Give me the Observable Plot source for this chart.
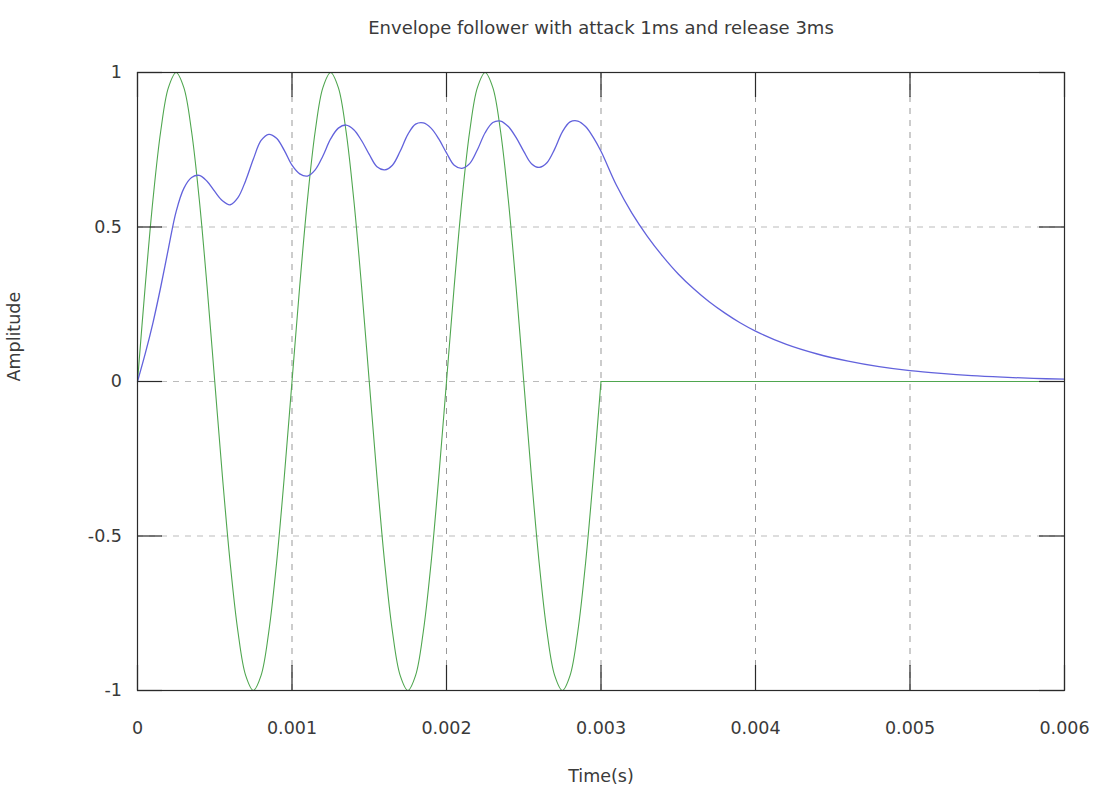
<!DOCTYPE html>
<html>
<head>
<meta charset="utf-8">
<script src="https://cdn.jsdelivr.net/npm/d3@7"></script>
<script src="https://cdn.jsdelivr.net/npm/@observablehq/plot@0.6"></script>
<style>
  html, body { margin: 0; padding: 0; background: #fff; }
  #chart { width: 1101px; height: 796px; }
</style>
</head>
<body>
<div id="chart"></div>
<script>
const titleText = "Envelope follower with attack 1ms and release 3ms";
const xLabel = "Time(s)";
const yLabel = "Amplitude";

const xTicks = [0, 0.001, 0.002, 0.003, 0.004, 0.005, 0.006];
const xTickLabels = ["0", "0.001", "0.002", "0.003", "0.004", "0.005", "0.006"];
const yTicks = [-1, -0.5, 0, 0.5, 1];
const yTickLabels = ["-1", "-0.5", "0", "0.5", "1"];

// input signal (green), time in seconds: three cycles, then silence
const inputTime = [
  0, 0.00005, 0.0001, 0.00015, 0.0002, 0.00025, 0.0003, 0.00035, 0.0004, 0.00045,
  0.0005, 0.00055, 0.0006, 0.00065, 0.0007, 0.00075, 0.0008, 0.00085, 0.0009, 0.00095,
  0.001, 0.00105, 0.0011, 0.00115, 0.0012, 0.00125, 0.0013, 0.00135, 0.0014, 0.00145,
  0.0015, 0.00155, 0.0016, 0.00165, 0.0017, 0.00175, 0.0018, 0.00185, 0.0019, 0.00195,
  0.002, 0.00205, 0.0021, 0.00215, 0.0022, 0.00225, 0.0023, 0.00235, 0.0024, 0.00245,
  0.0025, 0.00255, 0.0026, 0.00265, 0.0027, 0.00275, 0.0028, 0.00285, 0.0029, 0.00295,
  0.003
];
const inputValue = [
  0, 0.309, 0.588, 0.809, 0.951, 1, 0.951, 0.809, 0.588, 0.309,
  0, -0.309, -0.588, -0.809, -0.951, -1, -0.951, -0.809, -0.588, -0.309,
  0, 0.309, 0.588, 0.809, 0.951, 1, 0.951, 0.809, 0.588, 0.309,
  0, -0.309, -0.588, -0.809, -0.951, -1, -0.951, -0.809, -0.588, -0.309,
  0, 0.309, 0.588, 0.809, 0.951, 1, 0.951, 0.809, 0.588, 0.309,
  0, -0.309, -0.588, -0.809, -0.951, -1, -0.951, -0.809, -0.588, -0.309,
  0
];
const silenceTime = [0.003, 0.006];
const silenceValue = [0, 0];

// envelope (blue), time in seconds
const envTime = [
  0, 0.00005, 0.0001, 0.00015, 0.0002, 0.00025, 0.0003, 0.00035, 0.0004, 0.00045,
  0.0005, 0.00055, 0.0006, 0.00065, 0.0007, 0.00075, 0.0008, 0.00085, 0.0009, 0.00095,
  0.001, 0.00105, 0.0011, 0.00115, 0.0012, 0.00125, 0.0013, 0.00135, 0.0014, 0.00145,
  0.0015, 0.00155, 0.0016, 0.00165, 0.0017, 0.00175, 0.0018, 0.00185, 0.0019, 0.00195,
  0.002, 0.00205, 0.0021, 0.00215, 0.0022, 0.00225, 0.0023, 0.00235, 0.0024, 0.00245,
  0.0025, 0.00255, 0.0026, 0.00265, 0.0027, 0.00275, 0.0028, 0.00285, 0.0029, 0.00295,
  0.003, 0.0031, 0.0032, 0.0033, 0.0034, 0.0035, 0.0036, 0.0037, 0.0038, 0.0039,
  0.004, 0.0042, 0.0044, 0.0046, 0.0048, 0.005, 0.0052, 0.0054, 0.0056, 0.0058, 0.006
];
const envValue = [
  0, 0.09, 0.19, 0.305, 0.43, 0.55, 0.625, 0.66, 0.667, 0.648,
  0.615, 0.585, 0.572, 0.595, 0.65, 0.72, 0.78, 0.80, 0.787, 0.748,
  0.70, 0.672, 0.665, 0.685, 0.73, 0.785, 0.82, 0.83, 0.815, 0.78,
  0.735, 0.695, 0.685, 0.70, 0.745, 0.80, 0.833, 0.837, 0.82, 0.785,
  0.74, 0.70, 0.69, 0.705, 0.75, 0.805, 0.838, 0.843, 0.825, 0.79,
  0.745, 0.705, 0.693, 0.708, 0.752, 0.808, 0.84, 0.843, 0.825, 0.79,
  0.745, 0.635, 0.545, 0.47, 0.405, 0.348, 0.30, 0.258, 0.222, 0.19,
  0.163, 0.12, 0.089, 0.066, 0.048, 0.035, 0.026, 0.019, 0.014, 0.010, 0.0075
];

const inputData = inputTime.map((t, i) => ({t, v: inputValue[i]}));
const silenceData = silenceTime.map((t, i) => ({t, v: silenceValue[i]}));
const envData = envTime.map((t, i) => ({t, v: envValue[i]}));
const xFmt = new Map(xTicks.map((d, i) => [d, xTickLabels[i]]));
const yFmt = new Map(yTicks.map((d, i) => [d, yTickLabels[i]]));

const axisColor = "#2a2a2a";
const textColor = "#3a3a3a";
const greenColor = "#4fa64f";
const blueColor = "#6262dc";
const font = "DejaVu Sans";

const chart = Plot.plot({
  width: 1101,
  height: 796,
  marginLeft: 137,
  marginRight: 37,
  marginTop: 72,
  marginBottom: 106,
  style: {fontFamily: font, fontSize: "17.5px", color: textColor, background: "#fff"},
  x: {domain: [0, 0.006]},
  y: {domain: [-1, 1]},
  marks: [
    Plot.gridX(xTicks, {stroke: "#999", strokeOpacity: 1, strokeDasharray: "6,6"}),
    Plot.gridY(yTicks, {stroke: "#bbb", strokeOpacity: 1, strokeDasharray: "6,6"}),
    Plot.line(inputData, {x: "t", y: "v", stroke: greenColor, strokeWidth: 1.1, curve: "catmull-rom"}),
    Plot.line(silenceData, {x: "t", y: "v", stroke: greenColor, strokeWidth: 1.1}),
    Plot.line(envData, {x: "t", y: "v", stroke: blueColor, strokeWidth: 1.3, curve: "catmull-rom"}),
    Plot.frame({stroke: axisColor, strokeWidth: 1.2}),
    // inward tick marks on all four sides
    Plot.ruleX(xTicks, {x: d => d, insetTop: 593, stroke: axisColor, strokeWidth: 1.2}),
    Plot.ruleX(xTicks, {x: d => d, insetBottom: 593, stroke: axisColor, strokeWidth: 1.2}),
    Plot.ruleY(yTicks, {y: d => d, insetRight: 902, stroke: axisColor, strokeWidth: 1.2}),
    Plot.ruleY(yTicks, {y: d => d, insetLeft: 902, stroke: axisColor, strokeWidth: 1.2}),
    Plot.axisX(xTicks, {anchor: "bottom", tickSize: 0, tickPadding: 31, tickFormat: d => xFmt.get(d), label: null, fill: textColor}),
    Plot.axisY(yTicks, {anchor: "left", tickSize: 0, tickPadding: 15.5, tickFormat: d => yFmt.get(d), label: null, fill: textColor}),
    Plot.text([xLabel], {frameAnchor: "bottom", dy: 91, fill: textColor, fontSize: 17.5}),
    Plot.text([yLabel], {frameAnchor: "left", dx: -123, rotate: -90, fill: textColor, fontSize: 17.5}),
    Plot.text([titleText], {frameAnchor: "top", dy: -51.5, fill: textColor, fontSize: 18})
  ]
});
document.getElementById("chart").appendChild(chart);
</script>
</body>
</html>
